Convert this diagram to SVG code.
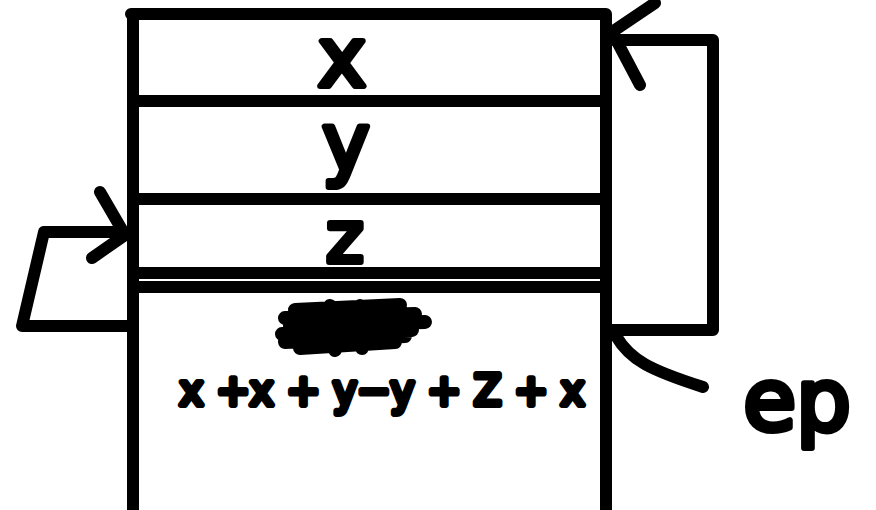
<svg xmlns="http://www.w3.org/2000/svg" width="876" height="510" viewBox="0 0 876 510">
<style>
.ln{fill:none;stroke:#000;stroke-width:12;stroke-linecap:round;stroke-linejoin:round}
.sc{fill:none;stroke:#000;stroke-width:14;stroke-linecap:round;stroke-linejoin:round}
.t{font-family:"DejaVu Sans",sans-serif;font-weight:normal;fill:#000;stroke:#000;stroke-width:6;stroke-linejoin:round;stroke-linecap:round;text-anchor:middle}
</style>
<rect width="876" height="510" fill="#fff"/>
<g id="stack">
<path class="ln" d="M131 14 L606 14 M133 14 L133 510 M606 14 L606 510"/>
<path class="ln" d="M133 101 L606 101 M133 199 L606 199 M133 273 L606 273 M133 287 L606 287"/>
</g>
<g id="cell-x"><text class="t" x="342" y="86" font-size="82">x</text></g>
<g id="cell-y"><text class="t" x="346" y="170" font-size="80">y</text></g>
<g id="cell-z"><text class="t" x="345" y="262" font-size="72">z</text></g>
<g id="body">
<path class="sc" d="M295 310 L400 305 M285 318 L415 314 M290 326 L425 322 M282 334 L412 330 M285 342 L405 336 M300 348 L395 342 M300 312 L305 347 M330 306 L335 350 M360 306 L362 348 M392 306 L394 342"/>
<text class="t" x="382" y="405" font-size="42" stroke-width="3.5" textLength="405" lengthAdjust="spacingAndGlyphs">x +x + y−y + Z + x</text>
</g>
<g id="label-ep"><text class="t" x="797" y="430" font-size="86" stroke-width="7">ep</text></g>
<g id="connectors">
<path class="ln" d="M612 330 L713 330 L713 40 L614 40"/>
<path class="ln" d="M655 3 L612 32 L640 85"/>
<path class="ln" d="M616 336 C630 360 650 370 703 387"/>
<path class="ln" d="M130 326 L22 326 L44 232 L125 232"/>
<path class="ln" d="M100 192 L125 235 L92 258"/>
</g>
</svg>
